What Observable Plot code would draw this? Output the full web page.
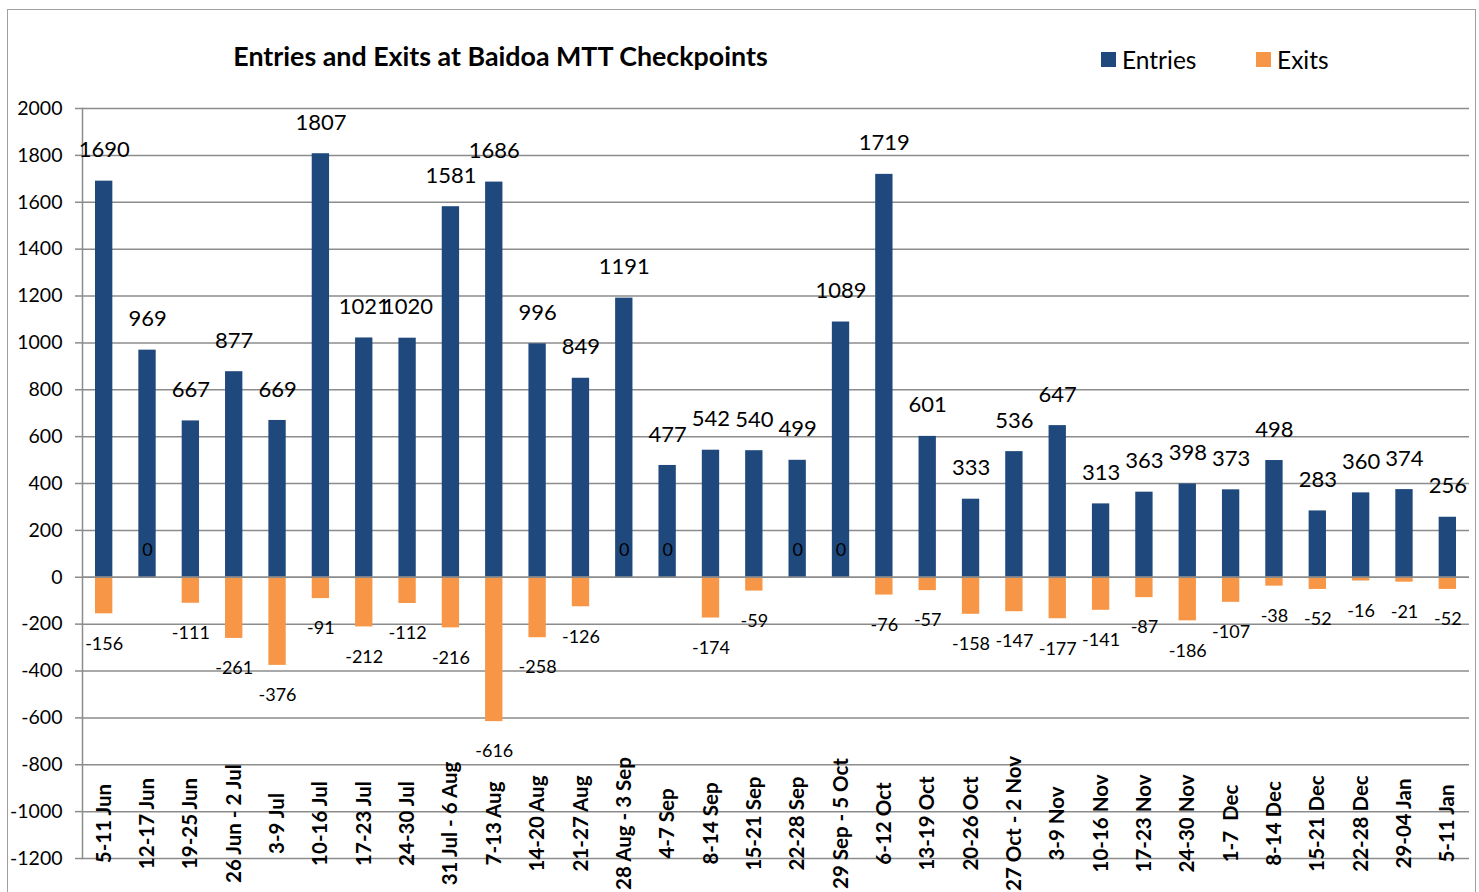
<!DOCTYPE html>
<html>
<head>
<meta charset="utf-8">
<script src="https://cdn.jsdelivr.net/npm/d3@7"></script>
<script src="https://cdn.jsdelivr.net/npm/@observablehq/plot@0.6"></script>
<style>
  html, body { margin: 0; padding: 0; background: #fff; }
  #wrap { position: relative; width: 1479px; height: 892px; overflow: hidden; font-family: Lato, "Open Sans", sans-serif; }
  #frame { position: absolute; left: 7px; top: 9px; width: 1469px; height: 900px; border: 1.5px solid #a0a0a0; box-sizing: border-box; }
  #title { position: absolute; left: 0; width: 1001px; top: 40px; text-align: center; font-weight: bold; font-size: 26.8px; color: #000; }
  .leg { position: absolute; top: 45px; font-size: 24.5px; color: #000; display: flex; align-items: center; }
  .sw { width: 15px; height: 15px; margin-right: 6px; display: inline-block; }
  #chart { position: absolute; left: 0; top: 0; }
</style>
</head>
<body>
<div id="wrap">
  <div id="frame"></div>
  <div id="chart"></div>
  <div id="title">Entries and Exits at Baidoa MTT Checkpoints</div>
  <div id="legend"></div>
</div>
<script>
const categories = [
  "5-11 Jun", "12-17 Jun", "19-25 Jun", "26 Jun - 2 Jul", "3-9 Jul", "10-16 Jul",
  "17-23 Jul", "24-30 Jul", "31 Jul - 6 Aug", "7-13 Aug", "14-20 Aug", "21-27 Aug",
  "28 Aug - 3 Sep", "4-7 Sep", "8-14 Sep", "15-21 Sep", "22-28 Sep", "29 Sep - 5 Oct",
  "6-12 Oct", "13-19 Oct", "20-26 Oct", "27 Oct - 2 Nov", "3-9 Nov", "10-16 Nov",
  "17-23 Nov", "24-30 Nov", "1-7  Dec", "8-14 Dec", "15-21 Dec", "22-28 Dec",
  "29-04 Jan", "5-11 Jan"
];
const entries = [
  1690, 969, 667, 877, 669, 1807, 1021, 1020, 1581, 1686, 996, 849,
  1191, 477, 542, 540, 499, 1089, 1719, 601, 333, 536, 647, 313,
  363, 398, 373, 498, 283, 360, 374, 256
];
const exits = [
  -156, 0, -111, -261, -376, -91, -212, -112, -216, -616, -258, -126,
  0, 0, -174, -59, 0, 0, -76, -57, -158, -147, -177, -141,
  -87, -186, -107, -38, -52, -16, -21, -52
];
const yTicks = [-1200, -1000, -800, -600, -400, -200, 0, 200, 400, 600, 800, 1000, 1200, 1400, 1600, 1800, 2000];
const seriesNames = ["Entries", "Exits"];
const seriesColors = ["#1F497D", "#F79646"];

const data = categories.map((c, i) => ({week: c, entries: entries[i], exits: exits[i]}));

const chart = Plot.plot({
  width: 1479,
  height: 892,
  marginLeft: 82,
  marginRight: 10,
  marginTop: 108,
  marginBottom: 34,
  style: {fontFamily: "Lato, 'Open Sans', sans-serif", background: "transparent", color: "#000", overflow: "visible"},
  x: {domain: categories, paddingInner: 0.6, paddingOuter: 0.3, round: false, label: null},
  y: {domain: [-1200, 2000], label: null},
  marks: [
    Plot.gridY(yTicks, {stroke: "#8c8c8c", strokeOpacity: 1, strokeWidth: 1.5}),
    Plot.barY(data, {x: "week", y: "entries", fill: seriesColors[0]}),
    Plot.barY(data, {x: "week", y: "exits", fill: seriesColors[1]}),
    Plot.ruleY([0], {stroke: "#8c8c8c", strokeWidth: 1.5}),
    Plot.axisY({ticks: yTicks, tickSize: 7, tickPadding: 13, tickFormat: d => String(d), fontSize: 19.5, stroke: "#8c8c8c", strokeWidth: 1.5}),
    Plot.frame({anchor: "left", stroke: "#8c8c8c", strokeWidth: 1.5}),
    Plot.axisX({tickSize: 0, tickPadding: 0, tickRotate: -90, textAnchor: "middle", lineAnchor: "middle", dy: -35, fontSize: 20.5, fontWeight: "bold"}),
    Plot.text(data, {x: "week", y: "entries", text: d => String(d.entries), dy: -31, fontSize: 22, fill: "#000"}),
    Plot.text(data.filter(d => d.exits < 0), {x: "week", y: "exits", text: d => String(d.exits), dy: 30, fontSize: 18, fill: "#000"}),
    Plot.text(data.filter(d => d.exits === 0), {x: "week", y: "exits", text: d => String(d.exits), dy: -27, fontSize: 18, fill: "#000"})
  ]
});
document.getElementById("chart").appendChild(chart);

const legend = document.getElementById("legend");
const legLeft = [1101, 1256];
seriesNames.forEach((name, i) => {
  const el = document.createElement("div");
  el.className = "leg";
  el.style.left = legLeft[i] + "px";
  el.innerHTML = `<span class="sw" style="background:${seriesColors[i]}"></span>${name}`;
  legend.appendChild(el);
});
</script>
</body>
</html>
